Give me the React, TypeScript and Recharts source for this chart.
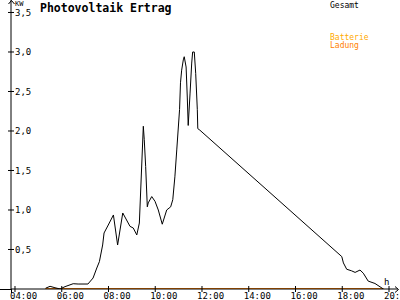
import { Line, LineChart, XAxis, YAxis } from "recharts";

// hours (decimal) and kW
const hours = [
  5.31, 5.5, 5.71, 5.93, 6.14, 6.49, 6.7, 7.12, 7.34, 7.5, 7.61, 7.75, 7.81, 7.99,
  8.21, 8.39, 8.61, 8.92, 9.06, 9.21, 9.32, 9.49, 9.53, 9.59, 9.66, 9.7, 9.85, 9.99,
  10.13, 10.3, 10.49, 10.66, 10.75, 10.84, 10.92, 11.04, 11.08, 11.13, 11.2, 11.24,
  11.32, 11.37, 11.41, 11.49, 11.56, 11.6, 11.67, 11.73, 11.8, 11.82, 11.91, 17.98,
  18.05, 18.19, 18.4, 18.55, 18.76, 18.9, 19.11, 19.4, 19.76,
];
const gesamt = [
  0.01, 0.034, 0.016, 0, 0.03, 0.067, 0.063, 0.063, 0.139, 0.266, 0.346, 0.557, 0.709, 0.81,
  0.937, 0.557, 0.962, 0.793, 0.772, 0.684, 0.835, 2.06, 1.89, 1.55, 1.04, 1.09, 1.17, 1.11,
  1.0, 0.82, 1.0, 1.04, 1.13, 1.42, 1.76, 2.27, 2.61, 2.77, 2.9, 2.94,
  2.81, 2.43, 2.07, 2.48, 2.86, 3.0, 3.0, 2.73, 2.27, 2.03, 2.01, 0.41,
  0.33, 0.25, 0.23, 0.21, 0.24, 0.2, 0.1, 0.07, 0.0,
];
// battery / charging stay at zero all day
const batterie = hours.map(() => 0);
const ladung = hours.map(() => 0);

const xTicks = [4, 6, 8, 10, 12, 14, 16, 18, 20];
const yTicks = [0.5, 1, 1.5, 2, 2.5, 3, 3.5];

const data = hours.map((h, i) => ({
  h,
  gesamt: gesamt[i],
  batterie: batterie[i],
  ladung: ladung[i],
}));

const mono = "'DejaVu Sans Mono', monospace";

const fmtHour = (v: number) => String(v).padStart(2, "0") + ":00";

function XTick(props: any) {
  const { x, y, payload } = props;
  return (
    <g>
      <line x1={x} x2={x} y1={y - 3} y2={y + 3} stroke="#000" />
      <text x={x - 5} y={y + 10} fontSize={9} fontFamily={mono} fill="#000">
        {fmtHour(payload.value)}
      </text>
    </g>
  );
}

function YTick(props: any) {
  const { x, y, payload } = props;
  return (
    <g>
      <line x1={x - 3} x2={x + 3} y1={y} y2={y} stroke="#000" />
      <text x={x + 4} y={y + 3.5} fontSize={9} fontFamily={mono} fill="#000">
        {String(payload.value.toFixed(1)).replace(".", ",")}
      </text>
    </g>
  );
}

export default function App() {
  return (
    <div style={{ position: "absolute", left: 0, top: 0, width: 400, height: 300, background: "#fff" }}>
      <LineChart width={400} height={300} data={data} margin={{ top: 0, right: 2, left: 0, bottom: 0 }}>
        <XAxis
          dataKey="h"
          type="number"
          domain={[3.829, 20.385]}
          ticks={xTicks}
          tick={<XTick />}
          tickLine={false}
          tickSize={0}
          tickMargin={0}
          height={11}
          stroke="#000"
          allowDataOverflow
        />
        <YAxis
          type="number"
          domain={[0, 3.658]}
          ticks={yTicks}
          tick={<YTick />}
          tickLine={false}
          tickSize={0}
          tickMargin={0}
          width={11}
          stroke="#000"
          allowDataOverflow
        />
        <Line dataKey="batterie" stroke="#ffaa00" strokeWidth={2} dot={false} isAnimationActive={false} />
        <Line dataKey="ladung" stroke="#ff8000" strokeWidth={2} dot={false} isAnimationActive={false} />
        <Line dataKey="gesamt" stroke="#000" strokeWidth={1} dot={false} isAnimationActive={false} />
      </LineChart>
      <svg width={400} height={300} style={{ position: "absolute", left: 0, top: 0, pointerEvents: "none" }}>
        <line x1={0} x2={11} y1={289.5} y2={289.5} stroke="#000" />
        <line x1={11.5} x2={11.5} y1={289} y2={293} stroke="#000" />
        <path d="M8.5 4 L11.5 0.5 L14.5 4" fill="none" stroke="#000" />
        <path d="M395 286.5 L398.5 289.5 L395 292.5" fill="none" stroke="#000" />
        <text x={15} y={6} fontSize={7} fontFamily={mono} fill="#000">KW</text>
        <text x={384} y={285} fontSize={9} fontFamily={mono} fill="#000">h</text>
        <text x={40} y={12} fontSize={11.5} fontWeight="bold" fontFamily={mono} fill="#000">
          Photovoltaik Ertrag
        </text>
        <text x={330} y={8} fontSize={8} fontFamily={mono} fill="#000">Gesamt</text>
        <text x={330} y={39.5} fontSize={8} fontFamily={mono} fill="#ffaa00">Batterie</text>
        <text x={330} y={47.5} fontSize={8} fontFamily={mono} fill="#ff8000">Ladung</text>
      </svg>
    </div>
  );
}
